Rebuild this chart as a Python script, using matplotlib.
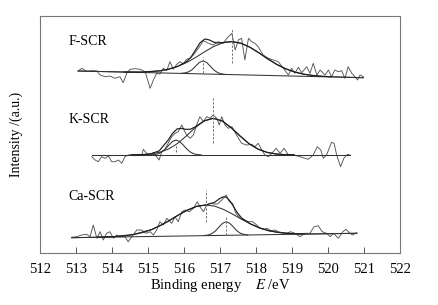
import matplotlib.pyplot as plt

plt.rcParams['font.family'] = ['Liberation Serif', 'DejaVu Serif']
plt.rcParams['mathtext.fontset'] = 'stix'

# ---- F-SCR ----
f_raw_e = [513.06, 513.16, 513.30, 513.44, 513.58, 513.67, 513.81, 513.94, 514.08, 514.22,
           514.31, 514.41, 514.50, 514.64, 514.78, 514.92, 515.06, 515.15, 515.24, 515.33,
           515.43, 515.52, 515.61, 515.70, 515.80, 515.89, 515.98, 516.07, 516.17, 516.26,
           516.40, 516.54, 516.68, 516.81, 516.95, 517.09, 517.23, 517.33, 517.42, 517.51,
           517.60, 517.69, 517.79, 517.88, 517.97, 518.06, 518.20, 518.34, 518.48, 518.62,
           518.76, 518.90, 518.99, 519.08, 519.18, 519.27, 519.41, 519.50, 519.59, 519.69,
           519.78, 519.92, 520.01, 520.10, 520.19, 520.29, 520.38, 520.47, 520.56, 520.66,
           520.75, 520.82, 520.89, 520.98]
f_raw_i = [182, 184.7, 181.3, 182.3, 182, 178, 176.3, 177, 174.7, 176.3,
           170.3, 179.7, 183.7, 184.3, 183.7, 181.3, 164.7, 173, 179.7, 179,
           184.7, 182.3, 191.3, 183.7, 188.7, 191.3, 189, 193.7, 194.7, 198,
           204.7, 212.3, 209.7, 208, 211.3, 209.7, 216.3, 219.7, 203, 213,
           214.7, 193, 214.7, 211.3, 209.7, 206.3, 198, 194.7, 193, 191.3,
           184.7, 178, 184.7, 179.7, 185.7, 180.3, 186.3, 179.7, 189.7, 178,
           183, 178, 183, 176.3, 183, 181.3, 182.3, 174.7, 186.3, 179.7,
           176.3, 173, 178, 176.3]
f_base_e = [513.06, 520.98]
f_base_i = [182, 175.3]
f_broad_e = [513.06, 514.33, 514.58, 514.83, 515.08, 515.33, 515.58, 515.83, 516.08, 516.33,
             516.58, 516.83, 517.08, 517.33, 517.58, 517.83, 518.08, 518.33, 518.58,
             518.83, 519.08, 519.33, 519.58, 519.83, 520.08, 520.33, 520.98]
f_broad_i = [182, 181.0, 180.9, 180.9, 181.3, 182.2, 183.9, 186.7, 190.6, 195.7,
             201.4, 206.6, 210.2, 211.4, 209.8, 205.8, 200.2, 194.0, 188.5,
             184.1, 180.9, 178.8, 177.5, 176.7, 176.3, 176.0, 175.3]
f_small_e = [515.93, 516.03, 516.13, 516.23, 516.33, 516.43, 516.53, 516.63, 516.73,
             516.83, 516.93, 517.03, 517.13]
f_small_i = [179.7, 180.1, 181.2, 183.5, 187.1, 190.7, 192.1, 190.5, 186.8,
             183.0, 180.5, 179.2, 178.6]
f_env_e = [514.33, 514.83, 515.33, 515.58, 515.83, 516.08, 516.2, 516.33, 516.45, 516.58,
           516.7, 516.83, 516.95, 517.08, 517.33, 517.58, 517.83, 518.08, 518.33, 518.58,
           518.83, 519.08, 519.33, 519.58, 519.83, 520.08]
f_env_i = [181.0, 180.9, 182.2, 183.9, 186.7, 191.6, 196.2, 203.6, 210.4, 214.0,
           213.1, 210.8, 210.0, 210.5, 211.4, 209.8, 205.8, 200.2, 194.0, 188.5,
           184.1, 180.9, 178.8, 177.5, 176.7, 176.3]
f_peaks = [516.53, 517.33]
f_dash_lo = [180, 190]
f_dash_hi = [196, 225]

# ---- K-SCR ----
k_raw_e = [513.44, 513.53, 513.62, 513.71, 513.81, 513.90, 513.99, 514.08, 514.18, 514.27,
           514.36, 514.45, 514.55, 514.64, 514.73, 514.82, 514.87, 514.96, 515.06, 515.15,
           515.24, 515.31, 515.38, 515.47, 515.56, 515.66, 515.75, 515.84, 515.94, 516.00,
           516.07, 516.17, 516.26, 516.35, 516.44, 516.54, 516.63, 516.72, 516.81, 516.91,
           516.98, 517.05, 517.14, 517.23, 517.33, 517.46, 517.60, 517.74, 517.88, 517.97,
           518.06, 518.16, 518.25, 518.34, 518.44, 518.56, 518.67, 518.78, 518.90, 519.04,
           519.22, 519.45, 519.59, 519.70, 519.80, 519.87, 519.96, 520.10, 520.17, 520.24,
           520.35, 520.44, 520.54, 520.61]
k_raw_i = [96.3, 93, 91.3, 96.3, 94.7, 97, 91.3, 91.3, 93, 89.7,
           96.3, 98, 98.7, 97.3, 98.7, 97.3, 103.7, 99.7, 98, 100.3,
           96.3, 93, 101.3, 103.7, 109.7, 116.3, 119.7, 121.3, 128, 123,
           118, 114.7, 118, 128, 136.3, 131.3, 136.3, 134.7, 138, 134.7,
           128, 136.3, 128, 124.7, 126.3, 118, 109.7, 108, 108.7, 106.3,
           109.7, 103, 98, 96.3, 99.7, 104.7, 99.7, 104.7, 98, 98,
           96.3, 93.7, 98, 106.3, 103, 94.7, 98, 110.7, 109.7, 98,
           86.3, 94.7, 98.7, 98]
k_base_e = [513.44, 520.61]
k_base_i = [98, 98]
k_broad_e = [514.56, 514.81, 515.06, 515.31, 515.56, 515.81, 516.06, 516.31, 516.56, 516.81,
             517.06, 517.31, 517.56, 517.81, 518.06, 518.31, 518.56, 518.81, 519.06]
k_broad_i = [98.1, 98.3, 99.0, 100.6, 103.8, 109.2, 116.9, 125.3, 132.1, 134.7,
             132.1, 125.3, 116.9, 109.2, 103.8, 100.6, 99.0, 98.3, 98.1]
k_small_e = [515.08, 515.18, 515.28, 515.38, 515.48, 515.58, 515.68, 515.78, 515.88,
             515.98, 516.08, 516.18, 516.28, 516.38, 516.48]
k_small_i = [98.1, 98.4, 99.1, 100.9, 103.9, 107.9, 111.5, 113, 111.5,
             107.9, 103.9, 100.9, 99.1, 98.4, 98.1]
k_env_e = [514.56, 514.81, 515.06, 515.31, 515.56, 515.68, 515.81, 515.93, 516.06, 516.18,
           516.31, 516.56, 516.81, 517.06, 517.31, 517.56, 517.81, 518.06, 518.31, 518.56,
           518.81, 519.06]
k_env_i = [98.1, 98.3, 99.0, 102.1, 112.9, 119.6, 124.1, 124.6, 123.6, 123.8,
           126.1, 132.1, 134.7, 132.1, 125.3, 116.9, 109.2, 103.8, 100.6, 99.0,
           98.3, 98.1]
k_peaks = [515.78, 516.81]
k_dash_lo = [101, 110]
k_dash_hi = [110, 155]

# ---- Ca-SCR ----
ca_raw_e = [512.88, 513.02, 513.16, 513.30, 513.39, 513.48, 513.58, 513.67, 513.76, 513.85,
            513.94, 514.04, 514.13, 514.22, 514.36, 514.45, 514.55, 514.69, 514.82, 514.94,
            515.06, 515.15, 515.24, 515.33, 515.43, 515.52, 515.66, 515.75, 515.84, 515.94,
            516.03, 516.15, 516.26, 516.37, 516.44, 516.54, 516.63, 516.74, 516.83, 516.93,
            517.05, 517.17, 517.26, 517.35, 517.44, 517.56, 517.67, 517.79, 517.91, 518.02,
            518.11, 518.22, 518.31, 518.41, 518.53, 518.62, 518.74, 518.85, 518.96, 519.08,
            519.22, 519.36, 519.50, 519.61, 519.73, 519.84, 519.96, 520.06, 520.15, 520.29,
            520.41, 520.50, 520.59, 520.68, 520.80]
ca_raw_i = [15.7, 16.3, 18, 18.7, 16.3, 28, 14.7, 21.3, 13, 19.7,
            21.3, 14.7, 18, 16.3, 16.3, 11.3, 16.3, 23, 23, 19.7,
            21.3, 18, 23, 31.3, 28, 34.7, 29.7, 36.3, 31.3, 41.3,
            43, 41.3, 44.7, 51.3, 46.3, 41.3, 48, 49.7, 49, 49,
            53, 58, 51.3, 49.7, 39.7, 34.7, 33, 31.3, 31.3, 28,
            24.7, 23.7, 24.7, 22.3, 23, 21.3, 20.3, 19.7, 21.3, 19.7,
            16.3, 19.7, 19.7, 26.3, 27.3, 21.3, 19.7, 16.3, 19.7, 14.7,
            21.3, 23.7, 20.3, 18, 20.3]
ca_base_e = [512.88, 520.80]
ca_base_i = [15.3, 19.7]
ca_broad_e = [512.88, 513.60, 513.85, 514.10, 514.35, 514.60, 514.85, 515.10, 515.35, 515.60,
              515.85, 516.10, 516.35, 516.60, 516.85, 517.10, 517.35, 517.60, 517.85,
              518.10, 518.35, 518.60, 518.85, 519.10, 519.35, 519.60, 520.80]
ca_broad_i = [15.3, 15.8, 16.0, 16.5, 17.2, 18.5, 20.4, 23.4, 27.6, 32.6,
              38.1, 43.0, 46.6, 48.0, 46.9, 43.5, 38.9, 33.7, 29.0,
              25.1, 22.3, 20.7, 19.7, 19.3, 19.1, 19.1, 19.7]
ca_small_e = [516.57, 516.67, 516.77, 516.87, 516.97, 517.07, 517.17, 517.27, 517.37,
              517.47, 517.57, 517.67, 517.77]
ca_small_i = [17.5, 18.0, 19.3, 21.9, 25.9, 29.6, 31.3, 29.7, 26.1,
              22.2, 19.7, 18.5, 18.1]
ca_env_e = [513.60, 514.10, 514.60, 515.10, 515.35, 515.60, 515.85, 516.10, 516.35, 516.60,
            516.85, 516.97, 517.07, 517.17, 517.27, 517.37, 517.47, 517.60, 517.85, 518.10,
            518.35, 518.60, 518.85, 519.10, 519.35]
ca_env_i = [15.8, 16.5, 18.5, 23.4, 27.6, 32.6, 38.1, 43.0, 46.6, 48.0,
            50.7, 53.9, 56.0, 56.0, 52.4, 46.8, 40.8, 35.0, 29.0, 25.1,
            22.3, 20.7, 19.7, 19.3, 19.1]
ca_peaks = [516.60, 517.17]
ca_dash_lo = [31.3, 18]
ca_dash_hi = [63, 36.3]

labels = ['F-SCR', 'K-SCR', 'Ca-SCR']
label_y = [208, 130, 53]
xticks = list(range(512, 523))

fig = plt.figure(figsize=(4.38, 3.05), dpi=100)
ax = fig.add_axes([40 / 438, 52 / 305, 360 / 438, 237 / 305])

panels = [
    (f_raw_e, f_raw_i, f_base_e, f_base_i, f_broad_e, f_broad_i, f_small_e, f_small_i,
     f_env_e, f_env_i, f_peaks, f_dash_lo, f_dash_hi),
    (k_raw_e, k_raw_i, k_base_e, k_base_i, k_broad_e, k_broad_i, k_small_e, k_small_i,
     k_env_e, k_env_i, k_peaks, k_dash_lo, k_dash_hi),
    (ca_raw_e, ca_raw_i, ca_base_e, ca_base_i, ca_broad_e, ca_broad_i, ca_small_e, ca_small_i,
     ca_env_e, ca_env_i, ca_peaks, ca_dash_lo, ca_dash_hi),
]

for p in panels:
    raw_e, raw_i, be, bi, bre, bri, se, si, ee, ei, pk, lo, hi = p
    ax.plot(raw_e, raw_i, color='#555555', lw=0.65)
    ax.plot(be, bi, color='#333333', lw=0.75)
    ax.plot(bre, bri, color='#333333', lw=0.75)
    ax.plot(se, si, color='#333333', lw=0.75)
    ax.plot(ee, ei, color='#1e1e1e', lw=0.85)
    ax.vlines(pk, lo, hi, colors='#777777', linestyles=(0, (2.5, 1.5)), lw=0.7)

for lab, y in zip(labels, label_y):
    ax.text(512.79, y, lab, fontsize=10, va='baseline', ha='left')

ax.set_xlim(512, 522)
ax.set_ylim(0, 237)
ax.set_xticks(xticks)
ax.set_xticklabels([str(t) for t in xticks], fontsize=10.5)
ax.set_yticks([])
ax.tick_params(axis='x', direction='in', length=4, width=0.7, color='#555555', pad=7)
for s in ax.spines.values():
    s.set_color('#777777')
    s.set_linewidth(0.8)

ax.set_xlabel('Binding energy    $\\it{E}$ /eV', fontsize=10.5, labelpad=1)
ax.set_ylabel('Intensity /(a.u.)', fontsize=10, labelpad=12)

plt.savefig('out.png', dpi=100)
